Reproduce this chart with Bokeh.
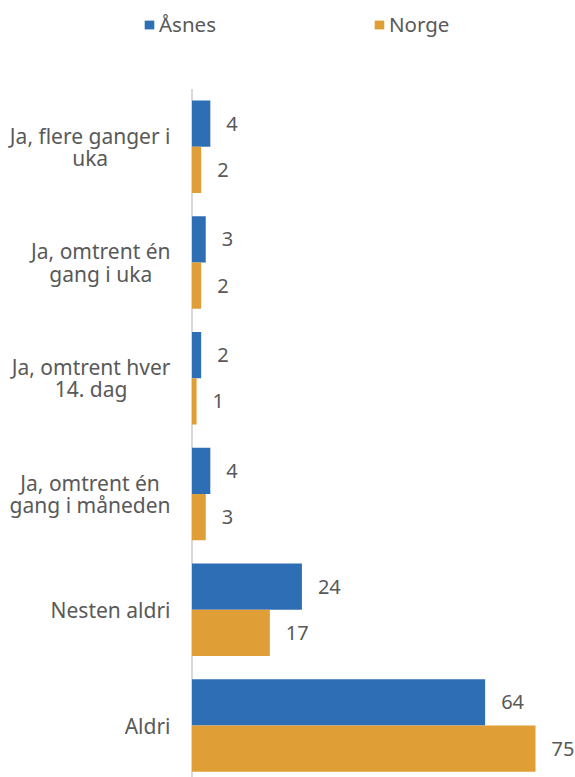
from bokeh.plotting import figure
from bokeh.models import Range1d, ColumnDataSource, LabelSet, Legend, LegendItem
from bokeh.transform import dodge
from bokeh.core.properties import value
from bokeh.embed import file_html
from bokeh.resources import INLINE

categories = ["Ja, flere ganger i\nuka", "Ja, omtrent én\ngang i uka", "Ja, omtrent hver\n14. dag",
              "Ja, omtrent én\ngang i måneden", "Nesten aldri", "Aldri"]
asnes = [4, 3, 2, 4, 24, 64]
norge = [2, 2, 1, 3, 17, 75]
series_names = ["Åsnes", "Norge"]
colors = ["#2E6EB4", "#E09E37"]

FONT = "Noto Sans"
GRAY = "#595959"

W, H = 575, 777
p = figure(width=W, height=H, output_backend="svg", toolbar_location=None,
           x_range=Range1d(-41.81, 83.73), y_range=Range1d(5.449, -1.264),
           min_border_left=0, min_border_right=0, min_border_top=0, min_border_bottom=0,
           outline_line_color=None)
p.xaxis.visible = False
p.yaxis.visible = False
p.grid.visible = False

n = len(categories)
src = ColumnDataSource(dict(y=list(range(n)), cat=categories, a=asnes, b=norge,
                            al=[str(v) for v in asnes], bl=[str(v) for v in norge],
                            zero=[0] * n))

# axis line
p.segment(x0=[0], y0=[-0.5], x1=[0], y1=[n], line_color="#D9D9D9", line_width=2)

r1 = p.hbar(y=dodge("y", -0.2), left=0, right="a", height=0.4, source=src,
            fill_color=colors[0], line_color=None)
r2 = p.hbar(y=dodge("y", 0.2), left=0, right="b", height=0.4, source=src,
            fill_color=colors[1], line_color=None)

# category labels
p.text(x="zero", y="y", text="cat", source=src, x_offset=-21.5,
       text_font=value(FONT), text_font_size="21px", text_color=GRAY,
       text_align="center", anchor="center_right", text_line_height=0.8)

# value labels
for col, lab, off in [("a", "al", -0.2), ("b", "bl", 0.2)]:
    ls = LabelSet(x=col, y=dodge("y", off), text=lab, source=src, x_offset=16,
                  text_font=value(FONT), text_font_size="20px", text_color=GRAY,
                  text_align="left", text_baseline="middle")
    p.add_layout(ls)

legend = Legend(items=[LegendItem(label=series_names[0], renderers=[r1]),
                       LegendItem(label=series_names[1], renderers=[r2])],
                orientation="horizontal", location=(143, 739),
                glyph_width=12, glyph_height=11, label_standoff=4, spacing=157,
                padding=0, margin=0, border_line_color=None, background_fill_alpha=0,
                label_text_font=FONT, label_text_font_size="20.5px", label_text_color=GRAY)
p.add_layout(legend)

open("out.html", "w").write(file_html(p, INLINE))
